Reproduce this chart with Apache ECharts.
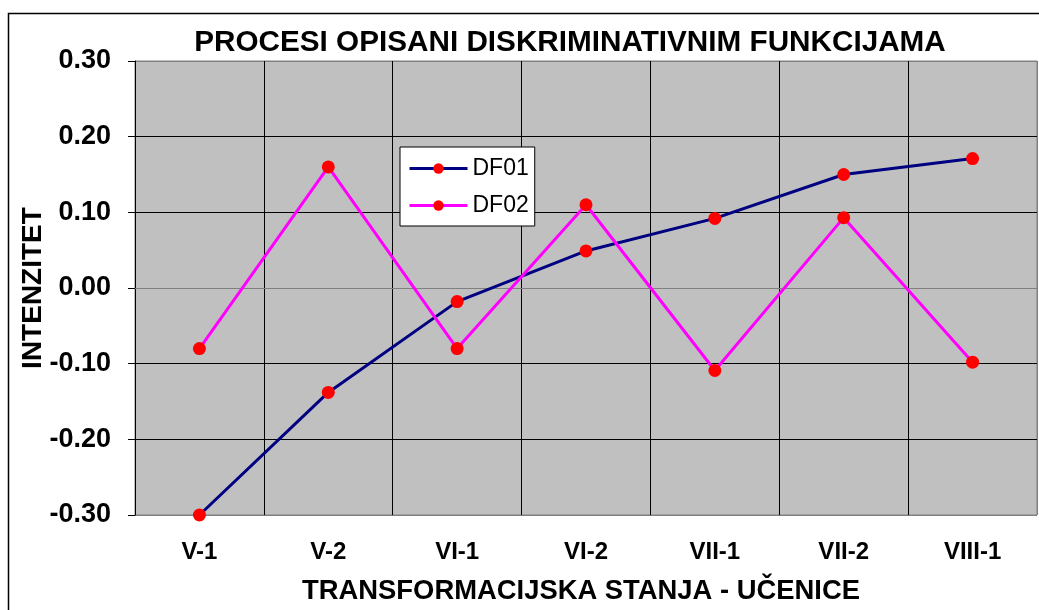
<!DOCTYPE html>
<html><head><meta charset="utf-8">
<script src="https://cdn.jsdelivr.net/npm/echarts@6/dist/echarts.min.js"></script>
<style>html,body{margin:0;padding:0;background:#fff}#c{width:1039px;height:610px}</style>
</head><body><div id="c"></div>
<script>
const categories = ['V-1','V-2','VI-1','VI-2','VII-1','VII-2','VIII-1'];
const df01 = [-0.30, -0.138, -0.018, 0.049, 0.092, 0.150, 0.171];
const df02 = [-0.080, 0.160, -0.080, 0.110, -0.109, 0.093, -0.098];
const yTicks = {min: -0.3, max: 0.3, interval: 0.1};

const chart = echarts.init(document.getElementById('c'), null, {renderer: 'canvas'});
const font = 'Arial, "Liberation Sans", sans-serif';
chart.setOption({
  animation: false,
  backgroundColor: '#fff',
  graphic: [{
    type: 'rect', shape: {x: 8.5, y: 13.5, width: 1040, height: 610},
    style: {fill: 'none', stroke: '#000', lineWidth: 1.5}, z: -1
  }],
  title: {
    text: 'PROCESI OPISANI DISKRIMINATIVNIM FUNKCIJAMA',
    left: 565, top: 23, textAlign: 'center',
    textStyle: {fontFamily: font, fontWeight: 'bold', fontSize: 29.7, color: '#000'}
  },
  legend: {
    left: 400, top: 147, orient: 'vertical',
    backgroundColor: '#fff', borderColor: '#000', borderWidth: 1,
    padding: [10, 6, 9, 8], itemGap: 14, itemWidth: 58, itemHeight: 13,
    lineStyle: {width: 3},
    textStyle: {fontFamily: font, fontSize: 23, color: '#000'},
    data: ['DF01', 'DF02']
  },
  grid: {left: 135, top: 61, right: 2, bottom: 95, show: true, backgroundColor: '#c0c0c0', borderColor: '#808080', borderWidth: 1},
  xAxis: {
    type: 'category', data: categories, boundaryGap: true,
    name: 'TRANSFORMACIJSKA STANJA - UČENICE', nameLocation: 'middle', nameGap: 63,
    nameMoveOverlap: false,
    nameTextStyle: {fontFamily: font, fontWeight: 'bold', fontSize: 27.4, color: '#000', padding: [0, 10, 0, 0]},
    axisLine: {lineStyle: {color: '#808080', width: 1}},
    axisTick: {show: false},
    axisLabel: {fontFamily: font, fontWeight: 'bold', fontSize: 24, color: '#000', margin: 25},
    splitLine: {show: true, lineStyle: {color: ['#000','#000','#000','#000','#000','#000','#000','#808080'], width: 1}}
  },
  yAxis: {
    type: 'value', min: yTicks.min, max: yTicks.max, interval: yTicks.interval,
    name: 'INTENZITET', nameLocation: 'middle', nameGap: 88, nameRotate: 90,
    nameMoveOverlap: false,
    nameTextStyle: {fontFamily: font, fontWeight: 'bold', fontSize: 28, color: '#000'},
    axisLine: {show: true, lineStyle: {color: '#000', width: 1}},
    axisTick: {show: true, length: 7, lineStyle: {color: '#000'}},
    axisLabel: {fontFamily: font, fontWeight: 'bold', fontSize: 27, color: '#000', margin: 24,
      formatter: v => v.toFixed(2)},
    splitLine: {show: true, lineStyle: {color: ['#808080','#000','#000','#000','#000','#000','#808080'], width: 1}}
  },
  series: [
    {name: 'DF01', type: 'line', data: df01, symbol: 'circle', symbolSize: 13,
     lineStyle: {color: '#000080', width: 3}, itemStyle: {color: '#ff0000'}, color: '#000080', z: 3},
    {name: 'DF02', type: 'line', data: df02, symbol: 'circle', symbolSize: 13,
     lineStyle: {color: '#ff00ff', width: 3}, itemStyle: {color: '#ff0000'}, color: '#ff00ff', z: 4}
  ]
});
</script></body></html>
